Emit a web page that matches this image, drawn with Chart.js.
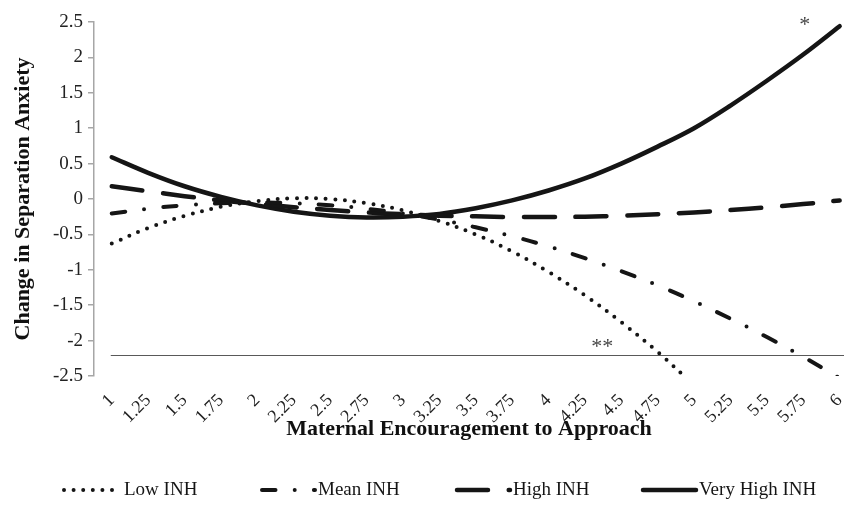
<!DOCTYPE html>
<html><head><meta charset="utf-8">
<script src="https://cdn.jsdelivr.net/npm/chart.js@4/dist/chart.umd.min.js"></script>
<style>html,body{margin:0;padding:0;background:#fff}#wrap{width:856px;height:517px}</style>
</head><body><div id="wrap"><canvas id="c" width="856" height="517"></canvas></div>
<script>
// ---- data ----
const xTickLabels = ['1','1.25','1.5','1.75','2','2.25','2.5','2.75','3','3.25','3.5','3.75','4','4.25','4.5','4.75','5','5.25','5.5','5.75','6'];
const xValues = [1,1.25,1.5,1.75,2,2.25,2.5,2.75,3,3.25,3.5,3.75,4,4.25,4.5,4.75,5,5.25,5.5,5.75,6];
const yTickValues = [-2.5,-2,-1.5,-1,-0.5,0,0.5,1,1.5,2,2.5];
const seriesNames = ['Low INH','Mean INH','High INH','Very High INH'];
const lowINH = [-0.63,-0.41,-0.24,-0.11,-0.03,0.01,0.0,-0.06,-0.16,-0.31,-0.50,-0.74,-1.03,-1.36,-1.74,-2.16,-2.63,null,null,null,null];
const meanINH = [-0.205,-0.137,-0.089,-0.06,-0.05,-0.06,-0.089,-0.137,-0.205,-0.292,-0.40,-0.525,-0.67,-0.835,-1.02,-1.22,-1.445,-1.69,-1.95,-2.23,-2.53];
const highINH = [0.18,0.11,0.04,-0.02,-0.07,-0.115,-0.155,-0.19,-0.215,-0.235,-0.245,-0.255,-0.255,-0.25,-0.235,-0.215,-0.19,-0.157,-0.118,-0.072,-0.02];
const veryHighINH = [0.59,0.37,0.18,0.03,-0.09,-0.18,-0.235,-0.26,-0.25,-0.21,-0.13,-0.02,0.12,0.29,0.50,0.74,1.00,1.32,1.67,2.04,2.44];
const axisCrossValue = -2.2;
const annotationTexts = ['*','**'];
const annotationX = [5.76, 4.37];
const annotationY = [2.52, -2.02];

// ---- styles ----
const INK = '#151515';
const dashes = [[0, 9.6], [13.5, 19.2, 0, 19.2], [31, 20.7], []];
const widths = [4, 4, 4.5, 4.5];
const seriesData = [lowINH, meanINH, highINH, veryHighINH];
const SERIF = '"Liberation Serif", "Times New Roman", serif';

const datasets = seriesNames.map((name, i) => ({
  label: name,
  data: xValues.map((x, j) => ({x: x, y: seriesData[i][j]})),
  borderColor: INK,
  backgroundColor: INK,
  borderWidth: widths[i],
  borderDash: dashes[i],
  borderCapStyle: 'round',
  borderJoinStyle: 'round',
  pointRadius: 0,
  pointHoverRadius: 0,
  tension: 0.35,
  fill: false,
  spanGaps: false
}));

const extras = {
  id: 'extras',
  beforeDatasetsDraw(chart) {
    const {ctx, chartArea, scales: {x, y}} = chart;
    const py = Math.round(y.getPixelForValue(axisCrossValue)) + 0.5;
    ctx.save();
    ctx.strokeStyle = '#595959';
    ctx.lineWidth = 1.2;
    ctx.beginPath();
    ctx.moveTo(x.getPixelForValue(xValues[0]) - 1, py);
    ctx.lineTo(chartArea.right, py);
    ctx.stroke();
    ctx.restore();
  },
  afterDraw(chart) {
    const {ctx, scales: {x, y}} = chart;
    ctx.save();
    // significance markers
    ctx.fillStyle = '#444';
    ctx.font = '22px ' + SERIF;
    ctx.textAlign = 'center';
    ctx.textBaseline = 'middle';
    annotationTexts.forEach((t, i) => {
      ctx.fillText(t, x.getPixelForValue(annotationX[i]), y.getPixelForValue(annotationY[i]) + 5);
    });
    // legend
    const legendY = 490;
    const starts = [62, 260, 455, 641];
    const sampleW = 55;
    ctx.font = '19px ' + SERIF;
    ctx.textAlign = 'left';
    ctx.fillStyle = INK;
    seriesNames.forEach((name, i) => {
      ctx.save();
      ctx.strokeStyle = INK;
      ctx.lineWidth = widths[i];
      ctx.lineCap = 'round';
      ctx.setLineDash(dashes[i]);
      ctx.beginPath();
      ctx.moveTo(starts[i] + 2, legendY);
      ctx.lineTo(starts[i] + sampleW, legendY);
      ctx.stroke();
      ctx.restore();
      ctx.fillText(name, starts[i] + sampleW + (i === 0 ? 7 : 3), legendY);
    });
    ctx.restore();
  }
};

new Chart(document.getElementById('c'), {
  type: 'line',
  data: {datasets},
  plugins: [extras],
  options: {
    responsive: false,
    animation: false,
    events: [],
    layout: {padding: {left: 0, right: 12, top: 22, bottom: 73}},
    plugins: {legend: {display: false}, tooltip: {enabled: false}},
    scales: {
      x: {
        type: 'linear',
        min: 0.878,
        max: 6.03,
        afterBuildTicks: s => { s.ticks = xValues.map(v => ({value: v})); },
        afterFit: s => { s.height = 68; s.paddingRight = 0; s.paddingLeft = 0; },
        grid: {display: false},
        border: {display: false},
        ticks: {
          autoSkip: false, minRotation: 45, maxRotation: 45, padding: 6,
          color: '#222', font: {family: SERIF, size: 18},
          callback: (v, i) => xTickLabels[i]
        },
        title: {display: true, text: 'Maternal Encouragement to Approach', color: '#111',
          font: {family: SERIF, size: 22, weight: 'bold'}, padding: {top: 0, bottom: 1}}
      },
      y: {
        min: -2.5, max: 2.5,
        afterBuildTicks: s => { s.ticks = yTickValues.map(v => ({value: v})); },
        afterFit: s => { s.width = 94; },
        grid: {drawOnChartArea: false, drawTicks: true, tickLength: 6, color: '#a6a6a6', lineWidth: 1.5},
        border: {display: true, color: '#a6a6a6', width: 1.5},
        ticks: {padding: 5, color: '#222', font: {family: SERIF, size: 19},
          callback: v => String(v)},
        title: {display: true, text: 'Change in Separation Anxiety', color: '#111',
          font: {family: SERIF, size: 22, weight: 'bold'}, padding: {top: 10, bottom: 0}}
      }
    }
  }
});
</script></body></html>
